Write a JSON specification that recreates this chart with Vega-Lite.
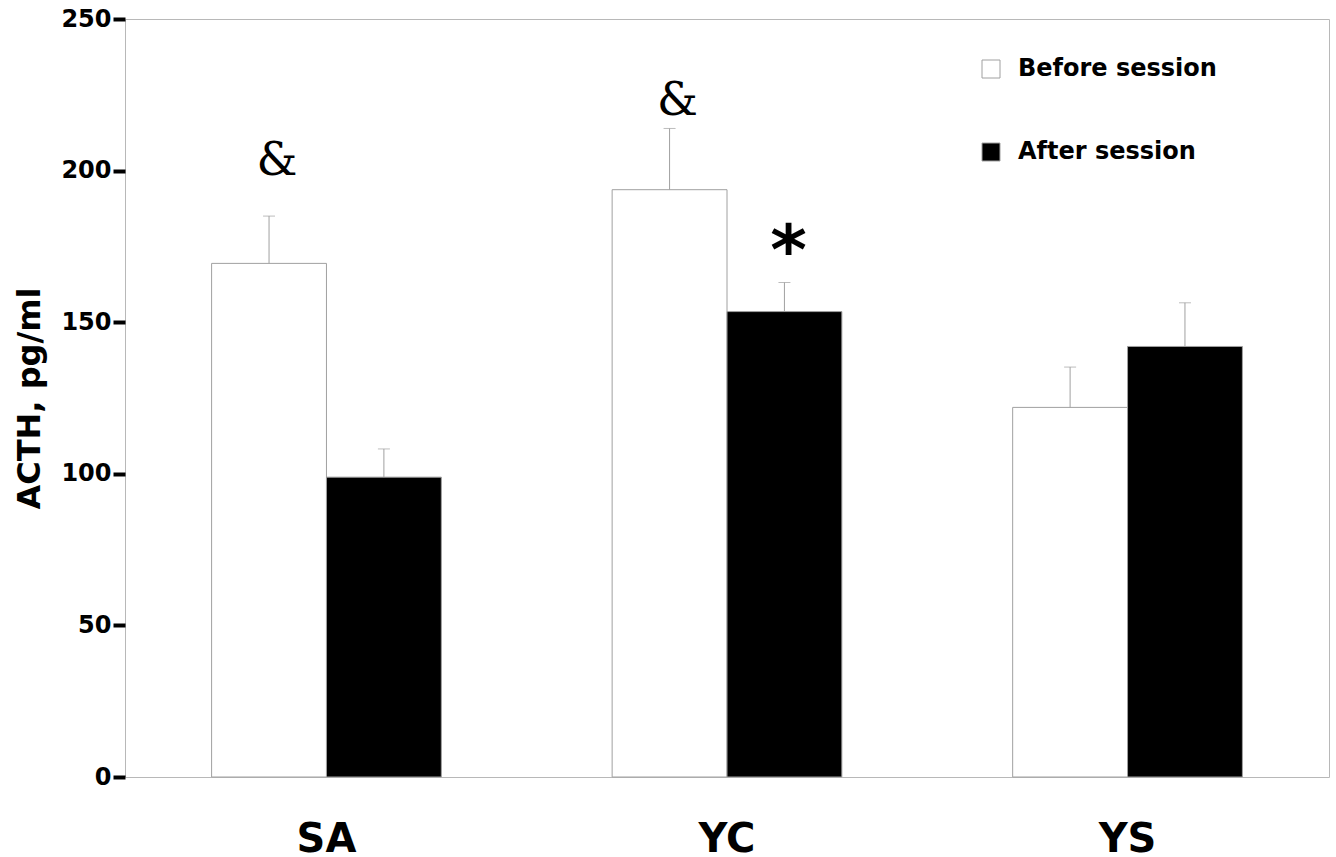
{
  "$schema": "https://vega.github.io/schema/vega-lite/v6.json",
  "width": 1204,
  "height": 758,
  "autosize": {"type": "none"},
  "padding": {"left": 125, "top": 19, "right": 7, "bottom": 80},
  "background": "white",
  "config": {
    "view": {"stroke": "#b8b8b8", "strokeWidth": 1},
    "font": "DejaVu Sans"
  },
  "datasets": {
    "bars": [
      {"group": "SA", "session": "Before session", "value": 169.4, "upper": 185.0},
      {"group": "SA", "session": "After session", "value": 98.9, "upper": 108.2},
      {"group": "YC", "session": "Before session", "value": 193.7, "upper": 213.9},
      {"group": "YC", "session": "After session", "value": 153.5, "upper": 163.1},
      {"group": "YS", "session": "Before session", "value": 121.9, "upper": 135.2},
      {"group": "YS", "session": "After session", "value": 142.0, "upper": 156.4}
    ],
    "notes": [
      {"group": "SA", "session": "Before session", "label": "&", "pos": 198.5, "font": "serif"},
      {"group": "YC", "session": "Before session", "label": "&", "pos": 218.3, "font": "serif"},
      {"group": "YC", "session": "After session", "label": "*", "pos": 166, "font": "sans"}
    ]
  },
  "layer": [
    {
      "data": {"name": "bars"},
      "mark": {"type": "bar", "stroke": "#a0a0a0", "strokeWidth": 1},
      "encoding": {
        "x": {
          "field": "group", "type": "nominal",
          "scale": {"paddingInner": 0.4264, "paddingOuter": 0.2162},
          "axis": {"title": null, "labelAngle": 0, "ticks": false, "domain": false,
                   "labelFontSize": 40, "labelFontWeight": "bold", "labelPadding": 42,
                   "labelColor": "black", "labelFont": "DejaVu Sans", "grid": false}
        },
        "xOffset": {"field": "session", "type": "nominal", "sort": ["Before session", "After session"],
                    "scale": {"paddingInner": 0, "paddingOuter": 0}},
        "y": {
          "field": "value", "type": "quantitative",
          "scale": {"domain": [0, 250], "nice": false},
          "axis": {"title": "ACTH, pg/ml", "values": [0, 50, 100, 150, 200, 250],
                   "grid": false, "domain": false, "tickSize": 12, "tickWidth": 4, "tickColor": "black",
                   "labelFontSize": 24, "labelFontWeight": "bold", "labelColor": "black", "labelPadding": 2,
                   "labelFont": "DejaVu Sans",
                   "titleFontSize": 32, "titleFontWeight": "bold", "titleColor": "black", "titlePadding": 14,
                   "titleFont": "DejaVu Sans"}
        },
        "fill": {
          "field": "session", "type": "nominal",
          "scale": {"domain": ["Before session", "After session"], "range": ["white", "black"]},
          "legend": {
            "title": null, "orient": "none", "legendX": 854, "legendY": 38,
            "symbolType": "square", "symbolSize": 324, "symbolStrokeColor": "#a0a0a0", "symbolStrokeWidth": 1,
            "labelFontSize": 24, "labelFontWeight": "bold", "labelColor": "black", "labelFont": "DejaVu Sans",
            "labelOffset": 15, "rowPadding": 59, "labelLimit": 400
          }
        }
      }
    },
    {
      "data": {"name": "bars"},
      "mark": {"type": "rule", "color": "#a0a0a0", "strokeWidth": 1},
      "encoding": {
        "x": {"field": "group", "type": "nominal"},
        "xOffset": {"field": "session", "type": "nominal", "sort": ["Before session", "After session"]},
        "y": {"field": "value", "type": "quantitative"},
        "y2": {"field": "upper"}
      }
    },
    {
      "data": {"name": "bars"},
      "mark": {"type": "tick", "color": "#a0a0a0", "thickness": 1, "size": 12},
      "encoding": {
        "x": {"field": "group", "type": "nominal"},
        "xOffset": {"field": "session", "type": "nominal", "sort": ["Before session", "After session"]},
        "y": {"field": "upper", "type": "quantitative"}
      }
    },
    {
      "data": {"name": "notes"},
      "transform": [{"filter": "datum.font == 'serif'"}],
      "mark": {"type": "text", "font": "DejaVu Serif", "fontSize": 46, "color": "black", "baseline": "alphabetic", "dx": 8},
      "encoding": {
        "x": {"field": "group", "type": "nominal"},
        "xOffset": {"field": "session", "type": "nominal", "sort": ["Before session", "After session"]},
        "y": {"field": "pos", "type": "quantitative"},
        "text": {"field": "label"}
      }
    },
    {
      "data": {"name": "notes"},
      "transform": [{"filter": "datum.font == 'sans'"}],
      "mark": {"type": "text", "font": "DejaVu Sans", "fontWeight": "bold", "fontSize": 70, "color": "black", "baseline": "alphabetic", "dx": 4},
      "encoding": {
        "x": {"field": "group", "type": "nominal"},
        "xOffset": {"field": "session", "type": "nominal", "sort": ["Before session", "After session"]},
        "y": {"field": "pos", "type": "quantitative"},
        "text": {"field": "label"}
      }
    }
  ]
}
